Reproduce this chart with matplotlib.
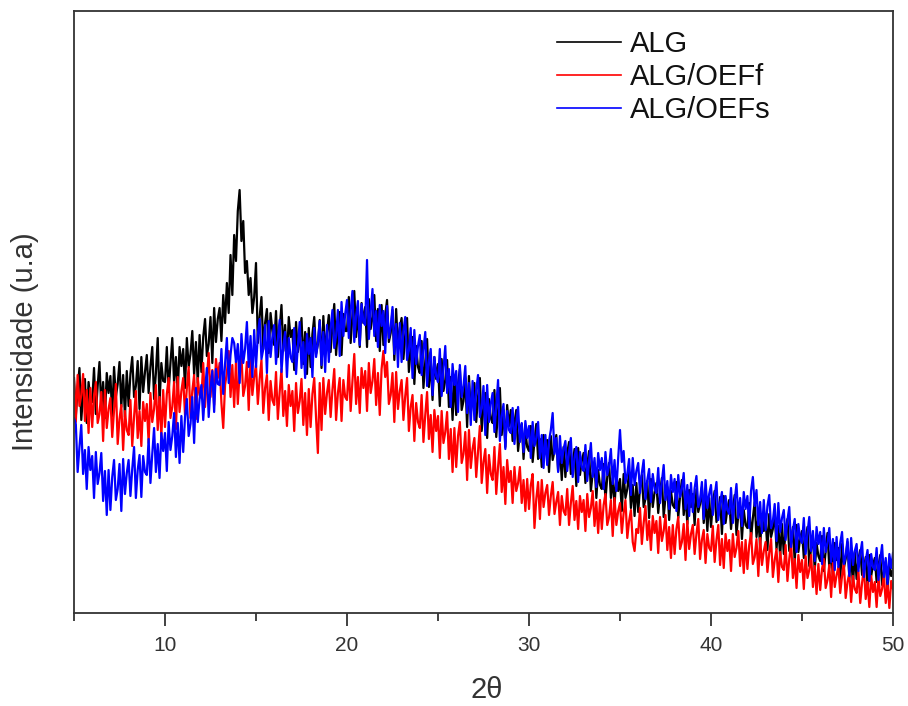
import numpy as np
import matplotlib
matplotlib.use("Agg")
import matplotlib.pyplot as plt
from matplotlib.ticker import MultipleLocator

plt.rcParams['font.family'] = ['Liberation Sans', 'DejaVu Sans']

# 2theta grid, 5 to 50 in 0.1 steps
two_theta = np.linspace(5, 50, 451)

# intensities (arbitrary units), one row per degree (5.0 .. 49.9, then 50.0)
alg = [
    235, 197, 225, 245, 193, 219, 234, 190, 231, 213,
    211, 245, 199, 227, 251, 205, 231, 195, 240, 220,
    237, 197, 246, 216, 229, 251, 206, 238, 196, 242,
    207, 239, 256, 216, 227, 252, 204, 256, 221, 241,
    258, 220, 246, 266, 214, 240, 275, 210, 250, 232,
    231, 266, 221, 250, 275, 230, 256, 221, 266, 247,
    264, 225, 275, 246, 259, 282, 238, 271, 230, 278,
    241, 276, 294, 257, 269, 296, 250, 305, 271, 294,
    305, 272, 318, 290, 330, 300, 358, 318, 378, 352,
    402, 423, 372, 392, 340, 352, 318, 335, 300, 316,
    350, 270, 296, 316, 264, 290, 304, 260, 300, 282,
    268, 302, 256, 284, 308, 262, 288, 252, 296, 276,
    283, 243, 291, 261, 273, 295, 249, 281, 239, 285,
    246, 279, 296, 259, 269, 293, 245, 297, 261, 281,
    298, 261, 288, 309, 258, 285, 301, 258, 299, 282,
    282, 316, 270, 298, 322, 276, 302, 266, 310, 290,
    306, 266, 314, 284, 296, 318, 272, 304, 262, 308,
    268, 298, 313, 271, 280, 303, 253, 304, 266, 285,
    295, 254, 278, 295, 241, 264, 276, 229, 267, 246,
    240, 272, 225, 251, 274, 226, 251, 213, 256, 234,
    249, 207, 254, 222, 233, 253, 206, 236, 193, 237,
    198, 229, 244, 203, 212, 235, 186, 237, 200, 219,
    230, 191, 216, 235, 182, 207, 220, 175, 214, 195,
    190, 223, 176, 202, 225, 178, 203, 166, 208, 187,
    203, 172, 190, 203, 162, 181, 189, 154, 182, 166,
    162, 187, 151, 172, 189, 154, 174, 146, 178, 161,
    173, 141, 177, 153, 162, 178, 142, 165, 133, 166,
    136, 160, 171, 139, 147, 164, 127, 165, 138, 152,
    160, 130, 148, 162, 122, 140, 149, 115, 143, 128,
    124, 149, 113, 136, 150, 115, 135, 107, 139, 122,
    134, 102, 139, 115, 124, 141, 105, 128, 97, 130,
    101, 126, 138, 106, 114, 132, 95, 134, 106, 121,
    130, 100, 120, 135, 96, 116, 126, 93, 122, 108,
    105, 131, 95, 117, 133, 98, 118, 89, 123, 106,
    119, 88, 124, 101, 109, 126, 90, 113, 82, 115,
    86, 110, 122, 91, 98, 116, 79, 117, 90, 104,
    113, 84, 103, 118, 78, 98, 107, 74, 103, 88,
    85, 110, 74, 95, 111, 76, 95, 66, 99, 82,
    94, 63, 99, 76, 84, 100, 64, 87, 56, 89,
    59, 83, 94, 62, 69, 86, 51, 88, 61, 75,
    82, 55, 73, 86, 47, 65, 75, 43, 70, 57,
    52, 77, 42, 62, 80, 45, 64, 36, 70, 53,
    65, 33, 69, 45, 54, 71, 35, 59, 27, 61,
    34, 54, 63, 38, 43, 56, 28, 58, 37, 48,
    55, 31, 47, 58, 28, 43, 51, 24, 48, 37,
    44,
]

alg_oeff = [
    232, 191, 238, 207, 218, 239, 192, 223, 180, 225,
    186, 217, 231, 190, 199, 221, 172, 223, 185, 204,
    215, 176, 202, 229, 169, 194, 208, 163, 202, 183,
    178, 213, 167, 196, 222, 175, 202, 167, 211, 192,
    209, 170, 220, 191, 204, 228, 183, 216, 176, 223,
    186, 219, 235, 195, 206, 231, 184, 236, 201, 222,
    235, 198, 225, 246, 195, 222, 238, 194, 235, 218,
    215, 250, 206, 235, 260, 216, 243, 208, 254, 235,
    250, 210, 185, 228, 240, 262, 216, 248, 206, 252,
    209, 241, 257, 217, 227, 251, 203, 254, 218, 236,
    248, 209, 234, 253, 200, 225, 238, 193, 232, 213,
    208, 241, 194, 221, 244, 197, 222, 187, 228, 207,
    222, 182, 230, 200, 212, 234, 188, 220, 178, 224,
    186, 219, 235, 195, 160, 230, 183, 235, 199, 220,
    233, 196, 223, 244, 193, 220, 235, 192, 233, 216,
    213, 248, 202, 232, 259, 209, 236, 200, 245, 225,
    242, 202, 250, 220, 232, 254, 208, 240, 198, 244,
    262, 236, 251, 209, 218, 240, 191, 241, 204, 222,
    233, 193, 217, 235, 182, 206, 218, 172, 210, 191,
    185, 218, 171, 198, 221, 174, 198, 161, 203, 182,
    197, 155, 202, 170, 181, 201, 154, 184, 141, 185,
    146, 177, 191, 150, 159, 181, 133, 183, 145, 164,
    175, 136, 161, 187, 130, 151, 164, 120, 158, 139,
    133, 166, 119, 146, 169, 121, 146, 109, 153, 131,
    142, 110, 146, 122, 130, 146, 110, 133, 102, 134,
    104, 128, 139, 85, 114, 131, 94, 133, 106, 120,
    128, 98, 117, 131, 99, 111, 121, 88, 117, 102,
    98, 124, 88, 110, 127, 93, 112, 84, 117, 101,
    113, 82, 119, 96, 105, 122, 87, 111, 80, 113,
    84, 108, 119, 88, 96, 113, 77, 115, 88, 102,
    110, 80, 100, 113, 75, 92, 103, 71, 62, 84,
    80, 105, 69, 90, 107, 73, 92, 63, 97, 80,
    92, 60, 96, 72, 82, 98, 63, 86, 55, 88,
    59, 84, 96, 64, 71, 89, 53, 92, 64, 79,
    88, 59, 79, 94, 54, 73, 83, 50, 79, 65,
    62, 87, 51, 73, 88, 48, 74, 45, 79, 62,
    73, 42, 79, 56, 65, 82, 47, 71, 40, 73,
    44, 68, 80, 49, 56, 74, 37, 75, 48, 62,
    71, 41, 60, 74, 36, 53, 64, 31, 61, 46,
    43, 68, 32, 54, 70, 35, 54, 25, 58, 41,
    53, 24, 57, 35, 43, 58, 26, 47, 19, 49,
    23, 44, 54, 25, 33, 48, 16, 50, 26, 38,
    46, 20, 37, 50, 15, 31, 40, 11, 37, 24,
    20, 42, 10, 30, 45, 14, 31, 6, 37, 21,
    31, 6, 36, 17, 24, 38, 10, 29, 5, 32,
    24,
]

alg_oefs = [
    195, 189, 141, 166, 188, 139, 163, 124, 166, 143,
    157, 115, 161, 129, 140, 160, 112, 142, 98, 143,
    103, 136, 153, 113, 124, 149, 102, 154, 119, 140,
    153, 117, 144, 166, 115, 143, 158, 116, 157, 141,
    138, 174, 130, 159, 185, 141, 169, 135, 180, 162,
    180, 142, 191, 163, 177, 200, 156, 190, 150, 197,
    161, 196, 214, 177, 189, 216, 170, 225, 191, 214,
    228, 193, 222, 245, 196, 225, 242, 201, 244, 229,
    228, 264, 219, 249, 275, 230, 258, 275, 270, 251,
    269, 230, 279, 250, 264, 291, 246, 277, 236, 283,
    246, 278, 294, 254, 264, 288, 240, 292, 256, 276,
    288, 249, 274, 293, 241, 267, 281, 236, 275, 256,
    251, 285, 239, 267, 291, 245, 271, 235, 279, 259,
    275, 236, 285, 256, 270, 292, 248, 281, 241, 288,
    251, 285, 303, 265, 277, 303, 257, 311, 277, 299,
    313, 275, 302, 322, 271, 297, 312, 268, 309, 291,
    288, 353, 274, 301, 324, 277, 302, 266, 308, 287,
    302, 260, 307, 275, 286, 306, 259, 289, 246, 290,
    251, 282, 296, 253, 263, 285, 235, 283, 249, 267,
    278, 238, 263, 281, 227, 252, 264, 218, 256, 237,
    231, 264, 217, 244, 267, 220, 244, 206, 249, 228,
    242, 201, 248, 216, 227, 247, 200, 230, 188, 232,
    193, 223, 238, 196, 205, 227, 178, 228, 191, 209,
    220, 181, 206, 233, 172, 197, 209, 164, 202, 183,
    180, 205, 169, 190, 206, 171, 190, 161, 192, 175,
    187, 155, 191, 167, 175, 191, 155, 178, 145, 178,
    148, 172, 183, 200, 159, 175, 141, 177, 150, 164,
    172, 142, 161, 175, 136, 155, 166, 131, 161, 146,
    142, 168, 132, 152, 170, 136, 155, 126, 160, 143,
    155, 124, 161, 138, 147, 164, 129, 153, 122, 155,
    183, 151, 162, 130, 139, 154, 118, 155, 128, 142,
    150, 120, 140, 153, 114, 133, 144, 111, 139, 124,
    120, 145, 110, 131, 148, 113, 132, 104, 138, 121,
    134, 102, 138, 116, 124, 140, 104, 128, 97, 130,
    101, 125, 137, 106, 113, 131, 94, 133, 105, 119,
    128, 98, 117, 131, 93, 110, 121, 89, 117, 103,
    99, 125, 90, 112, 129, 95, 115, 87, 121, 104,
    117, 85, 122, 136, 107, 123, 88, 111, 80, 113,
    83, 107, 118, 85, 92, 109, 72, 110, 81, 95,
    103, 73, 93, 106, 66, 83, 94, 61, 89, 74,
    70, 95, 59, 80, 96, 62, 82, 52, 86, 69,
    81, 49, 85, 61, 70, 85, 51, 74, 43, 76,
    46, 70, 81, 49, 57, 74, 37, 75, 48, 62,
    69, 42, 59, 71, 36, 52, 63, 32, 59, 46,
    43, 65, 33, 53, 68, 36, 55, 29, 59, 45,
    60,
]

series = [("ALG", alg, "#000000"),
          ("ALG/OEFf", alg_oeff, "#ff0000"),
          ("ALG/OEFs", alg_oefs, "#0000ff")]

fig = plt.figure(figsize=(9.08, 7.06), dpi=100)
ax = fig.add_axes([74 / 908, 93 / 706, 819 / 908, 602 / 706])

for name, vals, col in series:
    ax.plot(two_theta, vals, color=col, lw=1.6, label=name)

ax.set_xlim(5, 50)
ax.set_ylim(0, 602)
ax.xaxis.set_major_locator(MultipleLocator(10))
ax.xaxis.set_minor_locator(MultipleLocator(5))
ax.tick_params(axis='x', which='major', length=9.5, width=1.3, color='#333333',
               labelsize=15, labelcolor='#333333', pad=7)
ax.tick_params(axis='x', which='minor', length=5.5, width=1.3, color='#333333')
ax.set_yticks([])
for s in ax.spines.values():
    s.set_linewidth(1.3)
    s.set_color('#333333')

ax.set_xlabel("2θ", fontsize=21, color='#333333', va='center')
ax.xaxis.set_label_coords(0.504, -0.128)
ax.set_ylabel("Intensidade (u.a)", fontsize=21, color='#333333', va='center')
ax.yaxis.set_label_coords(-0.06, 0.45)

leg = ax.legend(loc='upper left', bbox_to_anchor=(557 / 908, 1 - 30 / 706),
                bbox_transform=fig.transFigure, frameon=False, fontsize=21,
                borderpad=0, borderaxespad=0, handlelength=2.2,
                handletextpad=0.3, labelspacing=0.17)
for t in leg.get_texts():
    t.set_color('#111111')
for h in leg.get_lines():
    h.set_linewidth(1.2)

fig.savefig("out.png", dpi=100)
